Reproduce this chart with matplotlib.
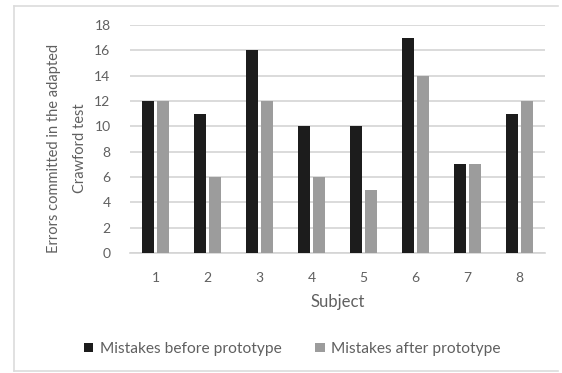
import matplotlib
matplotlib.use("Agg")
import matplotlib.pyplot as plt
import numpy as np
from matplotlib.lines import Line2D

subjects = ["1", "2", "3", "4", "5", "6", "7", "8"]
before = [12, 11, 16, 10, 10, 17, 7, 11]
after = [12, 6, 12, 6, 5, 14, 7, 12]
yticks = [0, 2, 4, 6, 8, 10, 12, 14, 16, 18]

text_color = "#606060"
plt.rcParams["font.family"] = ["Lato", "DejaVu Sans"]

W, H = 562, 373
fig = plt.figure(figsize=(W / 100, H / 100), dpi=100)
ax = fig.add_axes([130 / W, 1 - 253 / H, 415 / W, 228 / H])

x = np.arange(len(subjects))
bw = 0.23
off = 0.145
ax.bar(x - off, before, bw, color="#1c1c1c", label="Mistakes before prototype", zorder=3)
ax.bar(x + off, after, bw, color="#9c9c9c", label="Mistakes after prototype", zorder=3)

ax.set_xlim(-0.5, len(subjects) - 0.5)
ax.set_ylim(0, 18)
ax.set_yticks(yticks)
ax.set_xticks(x)
ax.set_xticklabels(subjects)
ax.yaxis.grid(True, color="#d4d4d4", linewidth=1.2, zorder=0)
for s in ["top", "right", "left"]:
    ax.spines[s].set_visible(False)
ax.spines["bottom"].set_color("#d4d4d4")
ax.spines["bottom"].set_linewidth(1.2)
ax.tick_params(axis="both", length=0, colors=text_color, labelsize=10)
ax.tick_params(axis="y", pad=14)
ax.tick_params(axis="x", pad=14)

ax.set_xlabel("Subject", color=text_color, fontsize=12, labelpad=7)
ylab = ax.set_ylabel("Errors committed in the adapted\nCrawford test", color=text_color,
                     fontsize=10.5, linespacing=2.1)
ylab.set_va("center")
ax.yaxis.set_label_coords(-0.152, 0.46)

leg = fig.legend(loc="center", bbox_to_anchor=(0.52, 1 - 349 / H), ncol=2, frameon=False,
                 fontsize=11.2, handlelength=0.6, handleheight=0.6, columnspacing=2.2,
                 handletextpad=0.4)
for t in leg.get_texts():
    t.set_color(text_color)

# light outer frame around the chart
frame_color = "#dcdcdc"
fig.add_artist(Line2D([14 / W, 14 / W], [1 - 6 / H, 1 - 371 / H], color=frame_color, lw=1.2))
fig.add_artist(Line2D([14 / W, 558 / W], [1 - 6 / H, 1 - 6 / H], color=frame_color, lw=1.2))
fig.add_artist(Line2D([14 / W, 558 / W], [1 - 371 / H, 1 - 371 / H], color=frame_color, lw=1.2))

fig.savefig("out.png", dpi=100)
